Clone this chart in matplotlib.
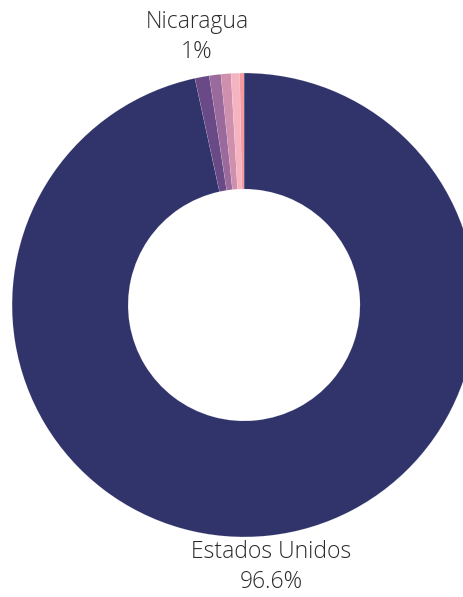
import matplotlib.pyplot as plt

# share of total by country
countries = ['Estados Unidos', 'Nicaragua', 'Honduras', 'Guatemala', 'El Salvador', 'Otros']
shares = [96.6, 1.0, 0.8, 0.7, 0.6, 0.3]
colors = ['#30346b', '#6a4a86', '#9a6a9c', '#cf90ae', '#f5b4c0', '#f59a9e']

plt.rcParams['font.family'] = ['Open Sans', 'DejaVu Sans']

fig = plt.figure(figsize=(4.64, 5.97), dpi=100)
ax = fig.add_axes([0, 0, 1, 1])

ax.pie(shares, colors=colors, startangle=90, counterclock=False, radius=1,
       wedgeprops=dict(width=0.5, edgecolor='#ffffff55', linewidth=0.2))

ax.set_xlim(-1.052, 0.948)
ax.set_ylim(-1.259, 1.315)
ax.set_aspect('equal')
ax.axis('off')

# labels for the shown slices
ax.text(-0.203, 1.155, f'{countries[1]}\n{shares[1]:.0f}%', ha='center', va='center',
        fontsize=16.5, color='#2b2b2b', linespacing=1.33, fontweight='light')
ax.text(0.116, -1.13, f'{countries[0]}\n{shares[0]}%', ha='center', va='center',
        fontsize=16.5, color='#2b2b2b', linespacing=1.33, fontweight='light')

fig.savefig('out.png', dpi=100)
